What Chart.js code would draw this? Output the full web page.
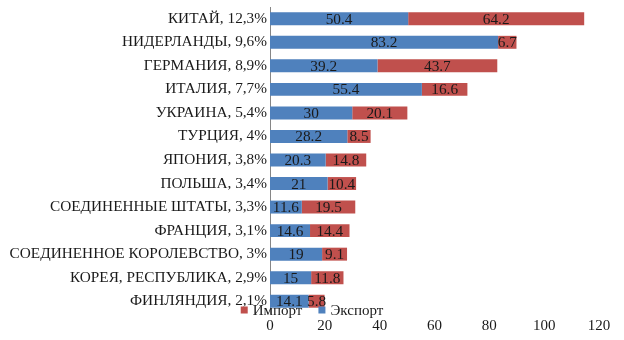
<!DOCTYPE html>
<html>
<head>
<meta charset="utf-8">
<script src="https://cdn.jsdelivr.net/npm/chart.js@4"></script>
<style>
    html, body { margin: 0; padding: 0; background: #ffffff; }
    #wrap { width: 624px; height: 340px; }
</style>
</head>
<body>
<div id="wrap"><canvas id="trade-chart"></canvas></div>
<script>
// Trade by country - stacked horizontal bars (export + import)

// Categories (country, share)
const countries = [
    'КИТАЙ, 12,3%',
    'НИДЕРЛАНДЫ, 9,6%',
    'ГЕРМАНИЯ, 8,9%',
    'ИТАЛИЯ, 7,7%',
    'УКРАИНА, 5,4%',
    'ТУРЦИЯ, 4%',
    'ЯПОНИЯ, 3,8%',
    'ПОЛЬША, 3,4%',
    'СОЕДИНЕННЫЕ ШТАТЫ, 3,3%',
    'ФРАНЦИЯ, 3,1%',
    'СОЕДИНЕННОЕ КОРОЛЕВСТВО, 3%',
    'КОРЕЯ, РЕСПУБЛИКА, 2,9%',
    'ФИНЛЯНДИЯ, 2,1%'
];

// Series values
const exportValues = [50.4, 83.2, 39.2, 55.4, 30, 28.2, 20.3, 21, 11.6, 14.6, 19, 15, 14.1];
const importValues = [64.2, 6.7, 43.7, 16.6, 20.1, 8.5, 14.8, 10.4, 19.5, 14.4, 9.1, 11.8, 5.8];

// Axis ticks
const xTicks = [0, 20, 40, 60, 80, 100, 120];

const FONT = "'Liberation Serif', 'Times New Roman', serif";
const BLUE = '#4f81bd';
const RED = '#c0504d';

// Value labels in the middle of each bar segment
const barLabels = {
    id: 'barLabels',
    afterDatasetsDraw(chart) {
        const ctx = chart.ctx;
        ctx.save();
        ctx.font = '15.3px ' + FONT;
        ctx.fillStyle = '#1a1a1a';
        ctx.textAlign = 'center';
        ctx.textBaseline = 'middle';
        chart.data.datasets.forEach((ds, i) => {
            const meta = chart.getDatasetMeta(i);
            meta.data.forEach((bar, j) => {
                const cx = (bar.x + bar.base) / 2;
                ctx.fillText(String(ds.data[j]), cx, bar.y + 1);
            });
        });
        ctx.restore();
    }
};

// Legend drawn over the bottom of the plot, like the original
const overlayLegend = {
    id: 'overlayLegend',
    afterDraw(chart) {
        const ctx = chart.ctx;
        const area = chart.chartArea;
        const items = chart.data.datasets.slice().reverse();
        ctx.save();
        ctx.font = '15px ' + FONT;
        ctx.textBaseline = 'middle';
        const box = 7;
        const gap = 5;
        const spacing = 16;
        const widths = items.map(ds => box + gap + ctx.measureText(ds.label).width);
        const total = widths.reduce((a, b) => a + b, 0) + spacing * (items.length - 1);
        let x = chart.width / 2 - total / 2;
        const y = area.bottom - 3;
        items.forEach((ds, i) => {
            ctx.fillStyle = ds.backgroundColor;
            ctx.fillRect(x, y - box / 2, box, box);
            ctx.fillStyle = '#1a1a1a';
            ctx.fillText(ds.label, x + box + gap, y + 1);
            x += widths[i] + spacing;
        });
        ctx.restore();
    }
};

const ctx = document.getElementById('trade-chart').getContext('2d');
new Chart(ctx, {
    type: 'bar',
    data: {
        labels: countries,
        datasets: [
            {
                label: 'Экспорт',
                data: exportValues,
                backgroundColor: BLUE,
                barPercentage: 0.55,
                categoryPercentage: 1
            },
            {
                label: 'Импорт',
                data: importValues,
                backgroundColor: RED,
                barPercentage: 0.55,
                categoryPercentage: 1
            }
        ]
    },
    plugins: [barLabels, overlayLegend],
    options: {
        indexAxis: 'y',
        responsive: true,
        maintainAspectRatio: false,
        animation: false,
        layout: {
            padding: { top: 7, right: 25, bottom: 4, left: 0 }
        },
        plugins: {
            legend: { display: false },
            tooltip: { enabled: false }
        },
        scales: {
            x: {
                stacked: true,
                min: 0,
                max: 120,
                afterBuildTicks(scale) {
                    scale.ticks = xTicks.map(v => ({ value: v }));
                },
                afterFit(scale) {
                    scale.height = 23;
                },
                grid: { display: false, drawTicks: false },
                border: { display: false },
                ticks: {
                    padding: 4,
                    maxRotation: 0,
                    color: '#1a1a1a',
                    font: { family: FONT, size: 15 }
                }
            },
            y: {
                stacked: true,
                afterFit(scale) {
                    scale.width = 270;
                    scale.paddingTop = 0;
                    scale.paddingBottom = 0;
                },
                grid: { display: false, drawTicks: false },
                border: { display: true, color: '#868686', width: 1 },
                ticks: {
                    padding: 3,
                    color: '#1a1a1a',
                    font: { family: FONT, size: 15.3 }
                }
            }
        }
    }
});
</script>
</body>
</html>
